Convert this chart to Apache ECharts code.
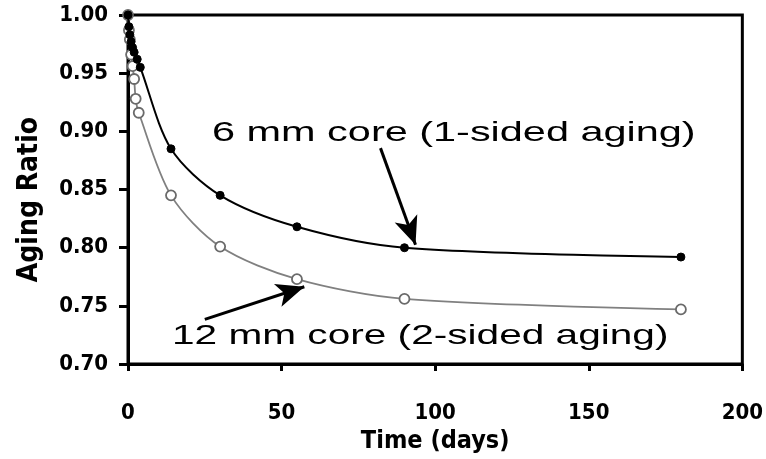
<!DOCTYPE html>
<html>
<head>
<meta charset="utf-8">
<script src="https://cdn.jsdelivr.net/npm/echarts@6/dist/echarts.min.js"></script>
<style>html,body{margin:0;padding:0;background:#fff;overflow:hidden}#c{width:766px;height:459px}</style>
</head>
<body>
<div id="c"></div>
<script>
var days6 = [0, 0.3, 0.6, 1, 1.5, 2, 3, 4, 14, 30, 55, 90, 180];
var ratio6 = [1.0, 0.99, 0.983, 0.977, 0.972, 0.968, 0.962, 0.955, 0.885, 0.845, 0.818, 0.80, 0.792];
var days12 = [0, 0.3, 0.6, 1, 1.5, 2, 2.5, 3.5, 14, 30, 55, 90, 180];
var ratio12 = [1.0, 0.987, 0.979, 0.966, 0.956, 0.945, 0.928, 0.916, 0.845, 0.801, 0.773, 0.756, 0.747];
var xTicks = [0, 50, 100, 150, 200];
var yTicks = [0.70, 0.75, 0.80, 0.85, 0.90, 0.95, 1.00];
var label6 = '6 mm core (1-sided aging)';
var label12 = '12 mm core (2-sided aging)';
var arrow6 = [[82.2, 0.8856], [93.6, 0.8026]];
var arrow12 = [[25, 0.7384], [57.4, 0.7665]];

function pairs(xs, ys){ return xs.map(function(x,i){return [x, ys[i]];}); }

var chart = echarts.init(document.getElementById('c'));
var condFont = 'DejaVu Sans Condensed, Liberation Sans Narrow, Liberation Sans, Arial';
var axisFont = {fontFamily: condFont, fontWeight: 'bold', fontSize: 22, color: '#000'};
chart.setOption({
  animation: false,
  grid: {left: 128, right: 20, top: 15, bottom: 92, show: true, borderColor: '#000', borderWidth: 3},
  xAxis: {
    type: 'value', min: xTicks[0], max: xTicks[xTicks.length-1], interval: 50,
    axisLine: {show: true, onZero: false, lineStyle: {color: '#000', width: 3}},
    axisTick: {show: true, length: 7, lineStyle: {color: '#000', width: 3}},
    splitLine: {show: false},
    axisLabel: Object.assign({margin: 38}, axisFont),
    name: 'Time (days)', nameLocation: 'middle', nameGap: 63,
    nameTextStyle: {fontFamily: condFont, fontWeight: 'bold', fontSize: 25, color: '#000'}
  },
  yAxis: {
    type: 'value', min: yTicks[0], max: yTicks[yTicks.length-1], interval: 0.05,
    axisLine: {show: true, onZero: false, lineStyle: {color: '#000', width: 3}},
    axisTick: {show: true, length: 9, lineStyle: {color: '#000', width: 3}},
    splitLine: {show: false},
    axisLabel: Object.assign({margin: 20, formatter: function(v){return v.toFixed(2);}}, axisFont),
    name: 'Aging Ratio', nameLocation: 'middle', nameGap: 84,
    nameTextStyle: {fontFamily: condFont, fontWeight: 'bold', fontSize: 28, color: '#000', padding: [0, 20, 0, 0]}
  },
  series: [
    {
      type: 'line', name: label12, data: pairs(days12, ratio12), smooth: 0.3,
      lineStyle: {color: '#808080', width: 1.8},
      symbol: 'circle', symbolSize: 10,
      itemStyle: {color: '#fff', borderColor: '#6a6a6a', borderWidth: 1.8},
      z: 2,
      markLine: {
        silent: true, symbol: ['none', 'arrow'], symbolSize: [18, 28],
        lineStyle: {color: '#000', width: 3, type: 'solid'}, label: {show: false},
        data: [[{coord: arrow12[0]}, {coord: arrow12[1]}]]
      }
    },
    {
      type: 'line', name: label6, data: pairs(days6, ratio6), smooth: 0.3,
      lineStyle: {color: '#000', width: 2},
      symbol: 'circle', symbolSize: 8,
      itemStyle: {color: '#000', borderColor: '#000'},
      z: 3,
      markLine: {
        silent: true, symbol: ['none', 'arrow'], symbolSize: [18, 28],
        lineStyle: {color: '#000', width: 3, type: 'solid'}, label: {show: false},
        data: [[{coord: arrow6[0]}, {coord: arrow6[1]}]]
      }
    }
  ],
  graphic: [
    {type: 'text', x: 212, y: 119, scaleX: 1.48, style: {text: label6, fontFamily: 'Liberation Sans, Arial', fontSize: 28, fill: '#000'}},
    {type: 'text', x: 172, y: 322, scaleX: 1.45, style: {text: label12, fontFamily: 'Liberation Sans, Arial', fontSize: 28, fill: '#000'}}
  ]
});
</script>
</body>
</html>
